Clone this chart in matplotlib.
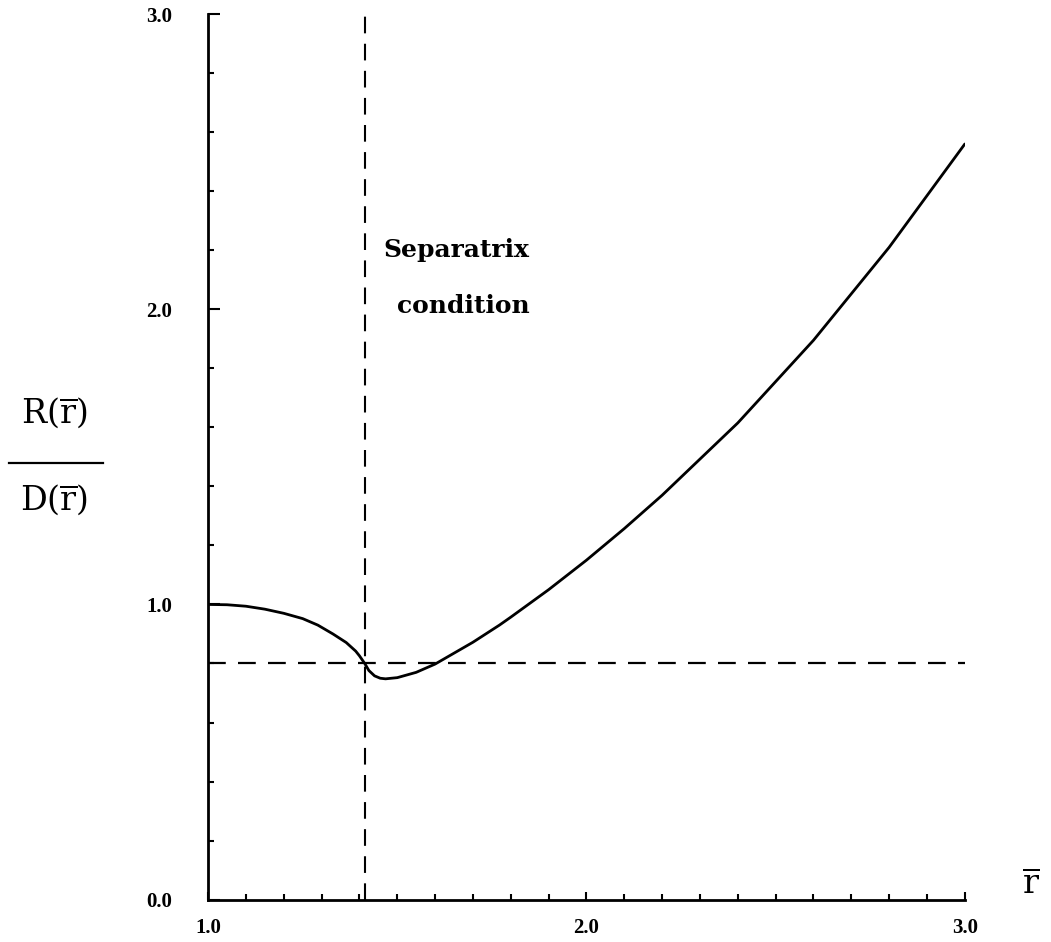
import matplotlib
matplotlib.use("Agg")
import matplotlib.pyplot as plt
from matplotlib.ticker import MultipleLocator
from matplotlib.lines import Line2D

plt.rcParams['mathtext.fontset'] = 'custom'
plt.rcParams['mathtext.rm'] = 'DejaVu Serif'

# R(r)/D(r)
r_bar = [1.00, 1.05, 1.10, 1.15, 1.20, 1.25, 1.29, 1.33, 1.365, 1.39, 1.40,
         1.414, 1.425, 1.44, 1.455, 1.469, 1.50, 1.55, 1.60, 1.65, 1.70, 1.77,
         1.80, 1.90, 2.00, 2.10, 2.20, 2.40, 2.60, 2.80, 3.00]
ratio = [1.000, 0.999, 0.994, 0.984, 0.970, 0.952, 0.930, 0.900, 0.871, 0.842, 0.826,
         0.800, 0.776, 0.758, 0.750, 0.748, 0.752, 0.770, 0.798, 0.835, 0.872, 0.930,
         0.957, 1.050, 1.150, 1.257, 1.370, 1.615, 1.895, 2.210, 2.560]

separatrix_r = 1.414
level = 0.8

xticks = [1.0, 2.0, 3.0]
xtick_labels = ['1.0', '2.0', '3.0']
yticks = [0.0, 1.0, 2.0, 3.0]
ytick_labels = ['0.0', '1.0', '2.0', '3.0']

fig = plt.figure(figsize=(10.51, 9.42), dpi=100)
ax = fig.add_axes([0.198, 0.045, 0.720, 0.940])

ax.plot(r_bar, ratio, color='k', lw=2.0, solid_capstyle='round', zorder=3)
ax.axvline(separatrix_r, color='k', lw=1.5, ls=(0, (8, 5)))
ax.axhline(level, color='k', lw=1.6, ls=(0, (8, 5.5)))

ax.text(1.462, 2.20, "Separatrix", fontsize=18, fontweight='bold',
        family='DejaVu Serif', va='center', ha='left')
ax.text(1.50, 2.01, "condition", fontsize=18, fontweight='bold',
        family='DejaVu Serif', va='center', ha='left')

ax.set_xlim(1.0, 3.0)
ax.set_ylim(0.0, 3.0)
for s in ['top', 'right']:
    ax.spines[s].set_visible(False)
for s in ['left', 'bottom']:
    ax.spines[s].set_linewidth(2.0)

tick_font = dict(fontfamily='Liberation Serif', fontweight='bold', fontsize=15)
ax.set_xticks(xticks)
ax.set_xticklabels(xtick_labels, **tick_font)
ax.set_yticks(yticks)
ax.set_yticklabels(ytick_labels, **tick_font)
ax.xaxis.set_minor_locator(MultipleLocator(0.1))
ax.yaxis.set_minor_locator(MultipleLocator(0.2))
ax.tick_params(which='both', direction='in', width=1.5)
ax.tick_params(axis='y', which='major', length=8.5, pad=26)
ax.tick_params(axis='y', which='minor', length=4.5)
ax.tick_params(axis='x', which='major', length=5.5, pad=13)
ax.tick_params(axis='x', which='minor', length=4)

# y label as a fraction
fig.text(54 / 1051, 1 - 413 / 942, r'$\mathrm{R(\overline{r})}$', fontsize=24,
         ha='center', va='center')
fig.text(54 / 1051, 1 - 500 / 942, r'$\mathrm{D(\overline{r})}$', fontsize=24,
         ha='center', va='center')
fig.add_artist(Line2D([9 / 1051, 103 / 1051], [1 - 463 / 942, 1 - 463 / 942],
                      color='k', lw=1.6))

# x label
fig.text(1031 / 1051, 1 - 884 / 942, r'$\mathrm{\overline{r}}$', fontsize=24,
         ha='center', va='center')

fig.savefig('out.png', dpi=100)
